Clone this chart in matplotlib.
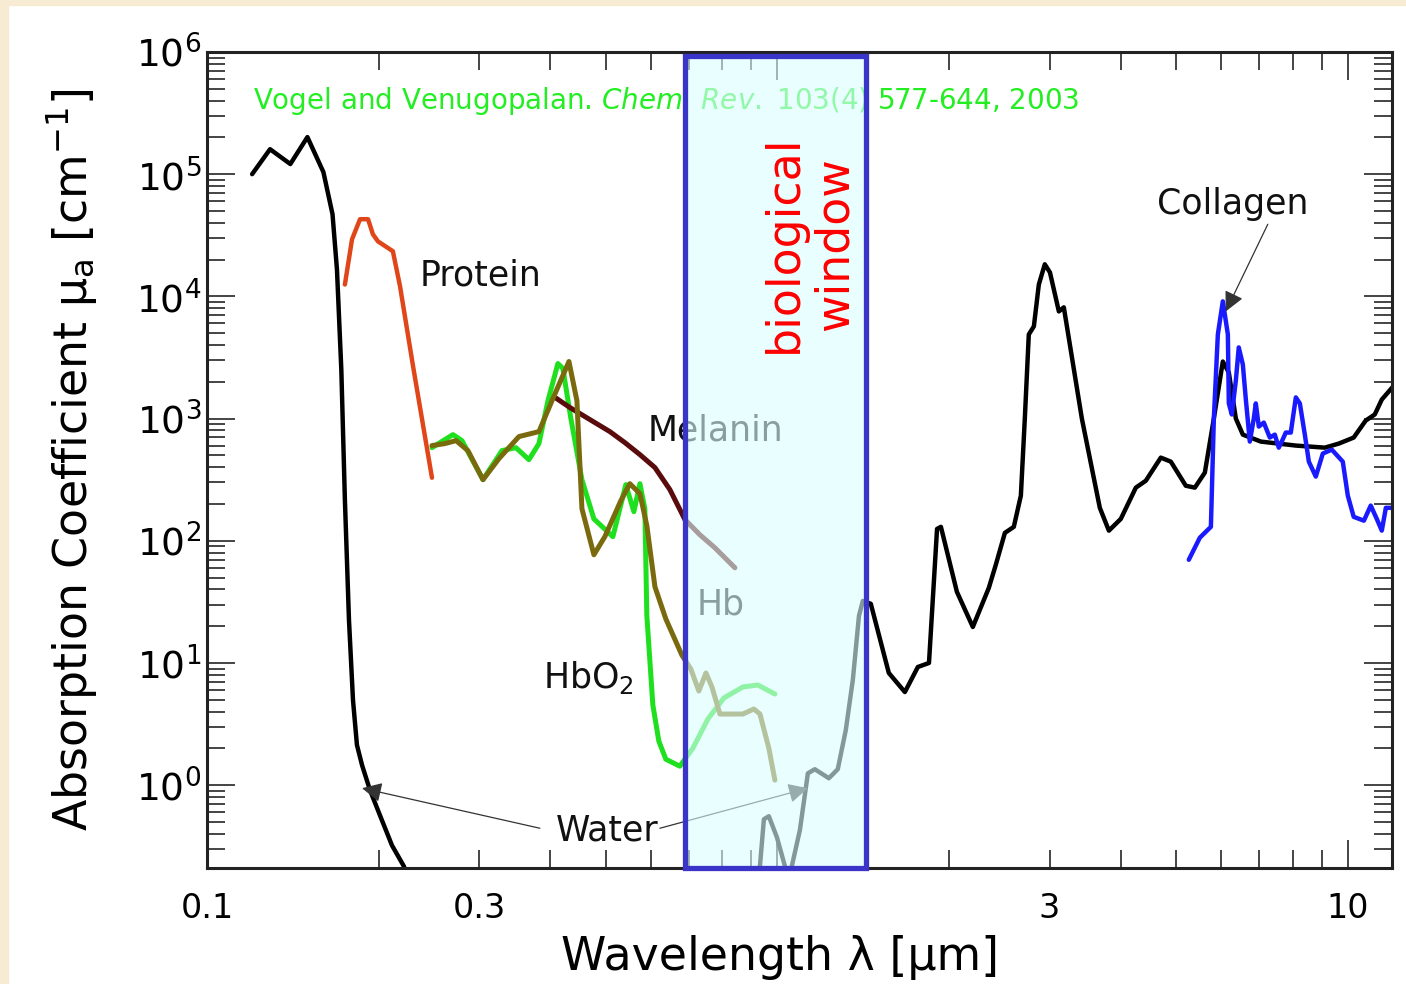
import matplotlib
matplotlib.use("Agg")
import matplotlib.pyplot as plt
from matplotlib.patches import Rectangle
from matplotlib.ticker import NullFormatter

plt.rcParams['font.family'] = 'DejaVu Sans'

# wavelength [um] / absorption coefficient [cm^-1]
water_wl = [0.120, 0.129, 0.140, 0.150, 0.160, 0.166, 0.169, 0.172, 0.1745, 0.1774,
            0.1803, 0.1832, 0.1870, 0.1931, 0.2010, 0.2110, 0.2214, 0.235,
            0.913, 0.932, 0.947, 0.966, 0.998, 1.031, 1.048, 1.060, 1.095, 1.131,
            1.163, 1.231, 1.276, 1.318, 1.356, 1.390, 1.412, 1.458, 1.568, 1.673,
            1.763, 1.844, 1.905, 1.935, 2.064, 2.201, 2.348, 2.415, 2.505, 2.597,
            2.672, 2.715, 2.759, 2.816, 2.873, 2.943, 3.005, 3.115, 3.178, 3.418,
            3.675, 3.812, 4.000, 4.250, 4.425, 4.701, 4.895, 5.200, 5.393, 5.615,
            5.823, 6.038, 6.186, 6.364, 6.546, 7.039, 8.108, 9.115, 9.643, 10.24,
            10.75, 11.15, 11.47, 12.09]
water_mu = [1.0e5, 1.6e5, 1.21e5, 2.01e5, 1.04e5, 4.7e4, 1.66e4, 2520, 217, 22.5,
            4.97, 2.13, 1.46, 0.91, 0.568, 0.322, 0.217, 0.1,
            0.1, 0.217, 0.526, 0.557, 0.375, 0.217, 0.1, 0.217, 0.428, 1.25,
            1.35, 1.14, 1.35, 2.82, 7.26, 24.3, 32.2, 30.5, 8.28, 5.78,
            9.27, 10.0, 125, 130, 38.2, 19.7, 41.2, 63.6, 116, 130,
            234, 1000, 4880, 5680, 12500, 18300, 15700, 7530, 8130, 1000,
            186, 121, 151, 272, 310, 479, 444, 282, 272, 361,
            1000, 2930, 2380, 1000, 739, 648, 601, 578, 624, 699,
            963, 1080, 1430, 1900]

protein_wl = [0.1745, 0.1796, 0.1855, 0.1916, 0.1954, 0.1994, 0.2118, 0.2180, 0.2298, 0.2480]
protein_mu = [12500, 29300, 42800, 42800, 32200, 28200, 23400, 12100, 2670, 328]

melanin_wl = [0.4074, 0.4329, 0.4691, 0.5085, 0.5402, 0.5741, 0.6100, 0.6480, 0.6885,
              0.7313, 0.7770, 0.8425]
melanin_mu = [1490, 1230, 981, 782, 636, 507, 397, 262, 149, 112, 87.6, 60.1]

hbo2_wl = [0.2480, 0.2699, 0.2799, 0.3047, 0.3290, 0.3480, 0.3668, 0.3819, 0.3961,
           0.4123, 0.4207, 0.4345, 0.4543, 0.4768, 0.5147, 0.5316, 0.5424, 0.5603,
           0.5741, 0.5857, 0.5904, 0.6049, 0.6197, 0.6375, 0.6745, 0.7111, 0.7555,
           0.8058, 0.8700, 0.9242, 0.9899]
hbo2_mu = [578, 739, 660, 316, 547, 578, 461, 624, 1400,
           2820, 2570, 1000, 316, 151, 108, 197, 288, 173,
           293, 183, 24.3, 4.53, 2.29, 1.63, 1.43, 2.01, 3.48,
           5.17, 6.36, 6.60, 5.57]

hb_wl = [0.2480, 0.2613, 0.2733, 0.2867, 0.3047, 0.3250, 0.3523, 0.3819, 0.4026,
         0.4311, 0.4452, 0.4543, 0.4768, 0.4983, 0.5316, 0.5512, 0.5741, 0.5904,
         0.6100, 0.6375, 0.6800, 0.7051, 0.7283, 0.7495, 0.7679, 0.7930, 0.8290,
         0.8700, 0.9095, 0.932, 0.966, 0.9899]
hb_mu = [601, 624, 660, 547, 316, 470, 712, 782, 1400,
         2930, 1400, 183, 76.8, 108, 213, 293, 243, 133,
         42.0, 22.9, 11.6, 8.93, 5.89, 8.28, 6.36, 3.82, 3.82,
         3.82, 4.20, 3.82, 2.01, 1.10]

collagen_wl = [5.263, 5.503, 5.754, 5.823, 5.918, 6.038, 6.162, 6.186, 6.261, 6.364,
               6.439, 6.546, 6.626, 6.733, 6.842, 6.898, 6.982, 7.124, 7.299, 7.447,
               7.568, 7.660, 7.785, 7.944, 8.108, 8.240, 8.407, 8.545, 8.788, 9.040,
               9.374, 9.799, 10.0, 10.24, 10.67, 10.97, 11.24, 11.47, 11.66, 12.14]
collagen_mu = [69.9, 106, 130, 1000, 4880, 9100, 4880, 1330, 1080, 2050,
               3820, 2770, 1430, 648, 1000, 1330, 860, 927, 699, 739,
               578, 648, 768, 768, 1490, 1330, 739, 444, 335, 517,
               557, 444, 234, 157, 146, 194, 151, 121, 186, 186]

window_wl = [0.69, 1.43]

xtick_major = [0.1, 1, 10]
xtick_major_labels = ["0.1", "", "10"]
xtick_minor = [0.2, 0.3, 0.4, 0.5, 0.6, 0.7, 0.8, 0.9, 2, 3, 4, 5, 6, 7, 8, 9]
xtick_minor_labels = ["", "0.3", "", "", "", "", "", "", "", "3", "", "", "", "", "", ""]
ytick_major = [1e0, 1e1, 1e2, 1e3, 1e4, 1e5, 1e6]

fig = plt.figure(figsize=(14.06, 9.84), dpi=100, facecolor="white")
# cream frame on top / left edges
fig.patches.append(Rectangle((0, 1 - 5 / 984), 1, 5 / 984, transform=fig.transFigure,
                             color="#f7ecd3", zorder=0))
fig.patches.append(Rectangle((0, 0), 8 / 1406, 1, transform=fig.transFigure,
                             color="#f7ecd3", zorder=0))

ax = fig.add_axes([0.1472, 0.1179, 0.8428, 0.8293])
ax.set_xscale("log")
ax.set_yscale("log")
ax.set_xlim(0.1, 11.95)
ax.set_ylim(0.21, 1e6)

line = dict(solid_joinstyle="round", solid_capstyle="round")
ax.plot(water_wl, water_mu, color="black", lw=3.2, **line)
ax.plot(protein_wl, protein_mu, color="#e0461a", lw=3.2, **line)
ax.plot(hbo2_wl, hbo2_mu, color="#1ee01e", lw=3.6, **line)
ax.plot(melanin_wl, melanin_mu, color="#5a0c0c", lw=3.6, **line)
ax.plot(hb_wl, hb_mu, color="#7a6a0e", lw=3.6, **line)
ax.plot(collagen_wl, collagen_mu, color="#1a1aff", lw=3.2, **line)

lab = dict(fontsize=25, color="#111111", zorder=3)
ax.text(0.236, 14900, "Protein", ha="left", va="center", **lab)
ax.text(0.593, 797, "Melanin", ha="left", va="center", **lab)
ax.text(0.723, 29.9, "Hb", ha="left", va="center", **lab)
ax.text(0.388, 7.54, "HbO$_2$", ha="left", va="center", **lab)
ax.text(6.29, 56800, "Collagen", ha="center", va="center", **lab)
ax.text(0.504, 0.428, "Water", ha="center", va="center", **lab)

arrow = dict(arrowstyle="-|>", color="#333333", lw=0.9, mutation_scale=30,
             shrinkA=0, shrinkB=0)
ax.annotate("", xy=(0.187, 0.945), xytext=(0.3834, 0.444), arrowprops=arrow, zorder=3)
ax.annotate("", xy=(1.131, 0.945), xytext=(0.6223, 0.444), arrowprops=arrow, zorder=3)
ax.annotate("", xy=(6.11, 7530), xytext=(7.24, 38900), arrowprops=arrow, zorder=3)

ax.text(0.1204, 3.97e5,
        r"Vogel and Venugopalan. $\mathit{Chem\ \ Rev.}$ 103(4) 577-644, 2003",
        color="#22ee22", fontsize=20, ha="left", va="center", zorder=3)

# biological window
box = Rectangle((window_wl[0], 0.21), window_wl[1] - window_wl[0], 9.3e5 - 0.21,
                facecolor=(0.86, 1.0, 1.0, 0.6), edgecolor="#3a34c8", lw=3.8,
                zorder=4, clip_on=False)
ax.add_patch(box)
ax.text(1.14, 26700, "biological\nwindow", rotation=90, color="red", fontsize=33,
        ha="center", va="center", multialignment="center", linespacing=1.15, zorder=5)

ax.set_xticks(xtick_major, labels=xtick_major_labels)
ax.set_xticks(xtick_minor, labels=xtick_minor_labels, minor=True)
ax.set_yticks(ytick_major)
ax.yaxis.set_minor_formatter(NullFormatter())

ax.tick_params(which="both", direction="in", top=True, right=True,
               color="#444444", width=1.4)
ax.tick_params(which="major", length=20)
ax.tick_params(which="minor", length=13)
ax.tick_params(axis="x", which="both", labelsize=24, pad=17)
ax.tick_params(axis="y", which="both", labelsize=27, pad=4)

for s in ax.spines.values():
    s.set_linewidth(2.2)
    s.set_color("#222222")

ax.set_xlabel("Wavelength λ [μm]", fontsize=33)
ax.set_ylabel(r"Absorption Coefficient μ$_\mathrm{a}$ [cm$^\mathrm{-1}$]", fontsize=33)
ax.xaxis.set_label_coords(0.4835, -0.082)
ax.yaxis.set_label_coords(-0.09, 0.5)

fig.savefig("out.png", dpi=100, facecolor=fig.get_facecolor())
